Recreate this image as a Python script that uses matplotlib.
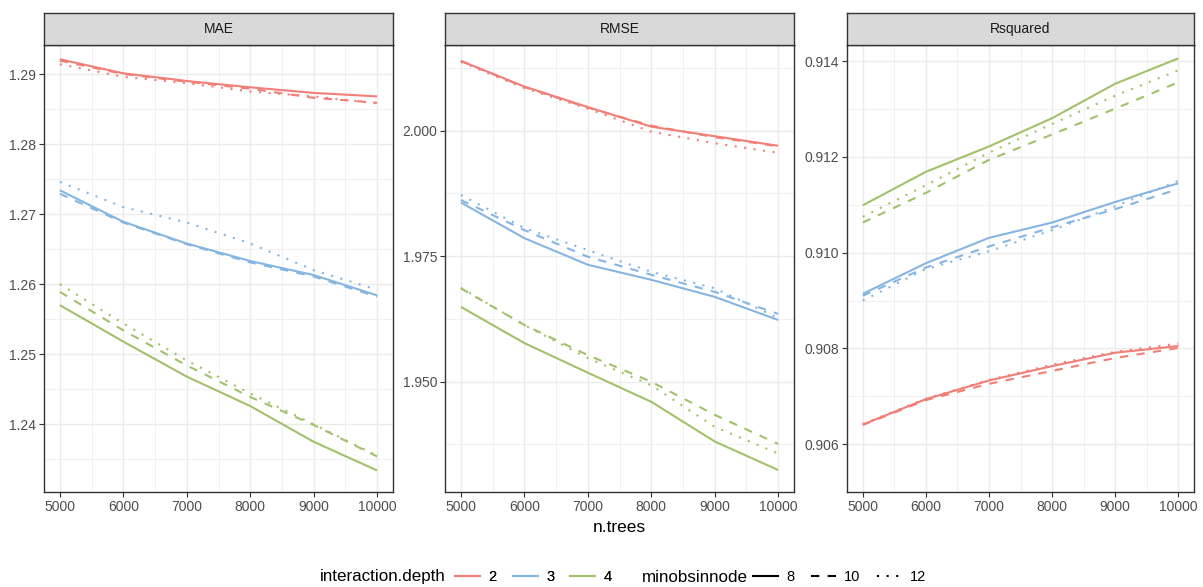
import numpy as np
import matplotlib
matplotlib.use("Agg")
import matplotlib.pyplot as plt
from matplotlib.lines import Line2D

plt.rcParams['font.family'] = ['Liberation Sans', 'DejaVu Sans']

# boosting iterations
ntrees = [5000, 6000, 7000, 8000, 9000, 10000]
depths = [2, 3, 4]
minobs = [8, 10, 12]

# each metric / depth: rows = minobsinnode 8, 10, 12
mae_d2 = [[1.2921, 1.2901, 1.2890, 1.2881, 1.2873, 1.2868],
          [1.2919, 1.2900, 1.2889, 1.2879, 1.2866, 1.2859],
          [1.2914, 1.2896, 1.2887, 1.2875, 1.2868, 1.2858]]
mae_d3 = [[1.2734, 1.2689, 1.2658, 1.2633, 1.2613, 1.2584],
          [1.2729, 1.2688, 1.2657, 1.2631, 1.2611, 1.2582],
          [1.2746, 1.2710, 1.2688, 1.2658, 1.2620, 1.2592]]
mae_d4 = [[1.2570, 1.2518, 1.2468, 1.2426, 1.2375, 1.2334],
          [1.2589, 1.2534, 1.2484, 1.2439, 1.2399, 1.2354],
          [1.2600, 1.2544, 1.2491, 1.2444, 1.2400, 1.2355]]

rmse_d2 = [[2.0139, 2.0088, 2.0047, 2.0008, 1.9989, 1.9970],
           [2.0139, 2.0087, 2.0046, 2.0010, 1.9987, 1.9969],
           [2.0137, 2.0085, 2.0044, 1.9998, 1.9975, 1.9956]]
rmse_d3 = [[1.9857, 1.9786, 1.9733, 1.9703, 1.9669, 1.9623],
           [1.9862, 1.9802, 1.9749, 1.9713, 1.9679, 1.9635],
           [1.9872, 1.9806, 1.9762, 1.9719, 1.9686, 1.9627]]
rmse_d4 = [[1.9649, 1.9577, 1.9518, 1.9460, 1.9381, 1.9324],
           [1.9686, 1.9613, 1.9553, 1.9500, 1.9434, 1.9376],
           [1.9687, 1.9613, 1.9547, 1.9493, 1.9410, 1.9357]]

rsq_d2 = [[0.90641, 0.90694, 0.90733, 0.90763, 0.90791, 0.90805],
          [0.90640, 0.90692, 0.90726, 0.90753, 0.90780, 0.90801],
          [0.90642, 0.90695, 0.90734, 0.90766, 0.90793, 0.90810]]
rsq_d3 = [[0.90914, 0.90978, 0.91031, 0.91063, 0.91106, 0.91145],
          [0.90910, 0.90969, 0.91013, 0.91053, 0.91091, 0.91133],
          [0.90900, 0.90966, 0.91003, 0.91047, 0.91097, 0.91150]]
rsq_d4 = [[0.91099, 0.91169, 0.91222, 0.91281, 0.91353, 0.91406],
          [0.91063, 0.91125, 0.91194, 0.91247, 0.91301, 0.91356],
          [0.91075, 0.91141, 0.91209, 0.91269, 0.91328, 0.91381]]

colors = ['#F07F77', '#86B5E2', '#A3C06B']
styles = ['-', (0, (4, 4)), (0, (1, 3.6))]

panels = [
    ('MAE', [mae_d2, mae_d3, mae_d4], (1.23033, 1.29414), [1.24, 1.25, 1.26, 1.27, 1.28, 1.29], '{:.2f}', 44, 393),
    ('RMSE', [rmse_d2, rmse_d3, rmse_d4], (1.92803, 2.01707), [1.950, 1.975, 2.000], '{:.3f}', 445, 794),
    ('Rsquared', [rsq_d2, rsq_d3, rsq_d4], (0.90596, 0.91434), [0.906, 0.908, 0.910, 0.912, 0.914], '{:.3f}', 847, 1194),
]

W, H = 1203, 587
fig = plt.figure(figsize=(W / 100, H / 100), dpi=100)

top_px, bot_px, strip_px = 45, 492, 12.6
border = '#333333'

for name, series, ylim, yticks, fmt, x0, x1 in panels:
    ax = fig.add_axes([x0 / W, 1 - bot_px / H, (x1 - x0) / W, (bot_px - top_px) / H])
    for di, d in enumerate(depths):
        for mi, m in enumerate(minobs):
            ax.plot(ntrees, series[di][mi], color=colors[di], linestyle=styles[mi],
                    lw=1.5, solid_capstyle='butt', dash_capstyle='butt')
    ax.set_xlim(4750, 10250)
    ax.set_ylim(*ylim)
    ax.set_xticks(ntrees)
    ax.set_xticks(np.arange(5500, 10000, 1000), minor=True)
    ax.set_yticks(yticks)
    ax.set_yticklabels([fmt.format(v) for v in yticks])
    step = yticks[1] - yticks[0]
    ax.set_yticks(np.arange(yticks[0] - step / 2, ylim[1], step), minor=True)
    ax.grid(which='major', color='#EBEBEB', lw=1.0)
    ax.grid(which='minor', color='#EBEBEB', lw=0.5)
    ax.set_axisbelow(True)
    for s in ax.spines.values():
        s.set_color(border)
        s.set_linewidth(1.0)
    ax.tick_params(which='major', length=3.5, width=0.8, color=border,
                   labelsize=10, labelcolor='#4D4D4D', pad=2)
    ax.tick_params(which='minor', length=0)
    # facet strip
    sax = fig.add_axes([x0 / W, 1 - top_px / H, (x1 - x0) / W, (top_px - strip_px) / H])
    sax.set_facecolor('#D9D9D9')
    sax.set_xticks([])
    sax.set_yticks([])
    for s in sax.spines.values():
        s.set_color(border)
        s.set_linewidth(1.0)
    sax.text(0.5, 0.5, name, ha='center', va='center', fontsize=10, color='#1A1A1A',
             transform=sax.transAxes)

fig.text(619 / W, 1 - 527 / H, 'n.trees', ha='center', va='center', fontsize=12.5, color='black')

# legend
ly = 1 - 577 / H
fig.text(320 / W, ly, 'interaction.depth', ha='left', va='center', fontsize=12.25)
h1 = [Line2D([], [], color=c, lw=1.5) for c in colors]
leg1 = fig.legend(h1, [str(d) for d in depths], loc='center left', bbox_to_anchor=(455 / W, ly),
                  ncol=3, frameon=False, fontsize=10.5, handlelength=1.7, handletextpad=0.6,
                  columnspacing=1.1, borderaxespad=0, borderpad=0)
fig.text(642 / W, ly, 'minobsinnode', ha='left', va='center', fontsize=12.25)
h2 = [Line2D([], [], color='black', lw=1.5, linestyle=s) for s in styles]
leg2 = fig.legend(h2, [str(m) for m in minobs], loc='center left', bbox_to_anchor=(753 / W, ly),
                  ncol=3, frameon=False, fontsize=10.5, handlelength=1.7, handletextpad=0.6,
                  columnspacing=1.1, borderaxespad=0, borderpad=0)
fig.add_artist(leg1)

fig.savefig('out.png', dpi=100, facecolor='white')
